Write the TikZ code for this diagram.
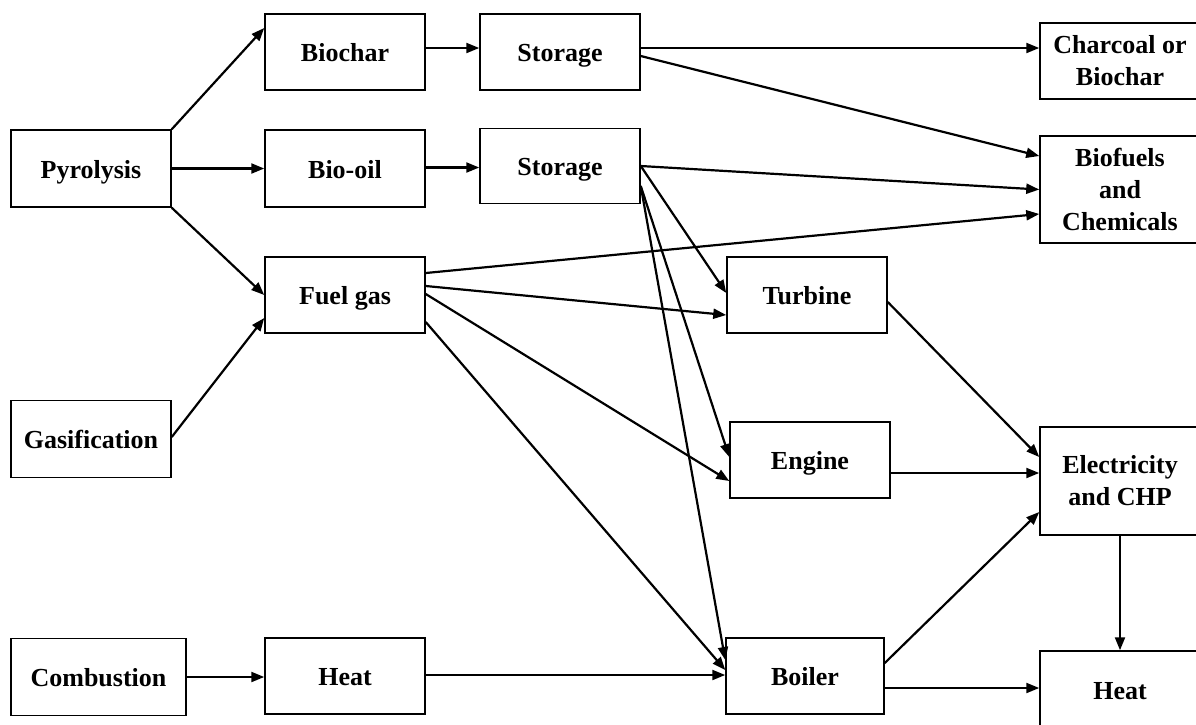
\documentclass[tikz,border=0pt]{standalone}
\usepackage{fontspec}
\setmainfont{Liberation Serif}
\usetikzlibrary{arrows.meta,calc}

\begin{document}
\begin{tikzpicture}[x=1pt,y=-1pt,>={Triangle[length=13pt,width=10pt]},
  box/.style={draw,line width=1.5pt,minimum width=160pt,minimum height=76pt,inner sep=2pt,align=center,
    font=\fontsize{26pt}{32pt}\selectfont\bfseries},
  one/.style={box,text height=20pt,text depth=1pt},
  flow/.style={->,line width=2.2pt}]
\useasboundingbox (0,0) rectangle (1196,724);
% sources
\node[one,minimum height=77pt] (pyro) at (91,168.5){Pyrolysis};
\node[one,minimum height=77pt] (gasif) at (91,439){Gasification};
\node[one,minimum width=175pt,minimum height=77pt] (comb) at (98.5,677){Combustion};
% intermediates
\node[one] (biochar) at (345,52){Biochar};\node[one] (store1) at (560,52){Storage};
\node[one,minimum height=77pt] (biooil) at (345,168.5){Bio-oil};\node[one,minimum height=75pt] (store2) at (560,166){Storage};
\node[one] (fuel) at (345,295){Fuel gas};\node[one] (heat1) at (345,676){Heat};
% conversion
\node[one] (turb) at (807,295){Turbine};\node[one] (eng) at (810,460){Engine};
\node[one,minimum width=158pt] (boil) at (805,676){Boiler};
% products
\node[box] (charc) at (1120,61){Charcoal or\\Biochar};
\node[box,minimum height=107pt] (biof) at (1120,189.5){Biofuels\\and\\Chemicals};
\node[box,minimum height=108pt] (elec) at (1120,481){Electricity\\and CHP};
\node[one,minimum height=78pt] (heat2) at (1120,690){Heat};
% left part
\draw[flow] (pyro.north east)--([yshift=24pt]biochar.west);
\draw[flow] (pyro.east)--(pyro.east -| biooil.west);
\draw[flow] (pyro.south east)--(fuel.west);
\draw[flow] ([yshift=2pt]gasif.east)--([yshift=-23pt]fuel.west);
\draw[flow] (comb.east)--(comb.east -| heat1.west);
\foreach \a/\b/\s in {biochar/store1/4pt,store1/charc/4pt,biooil/store2/1pt,heat1/boil/1pt,eng/elec/-13pt,boil/heat2/-12pt}{
\draw[flow] ([yshift=\s]\a.east)--([yshift=\s]\a.east -| \b.west);}
% to biofuels
\draw[flow] ([yshift=-4pt]store1.east)--([yshift=33.5pt]biof.west);
\draw[flow] (store2.east)--(biof.west);
\draw[flow] ([yshift=22pt]fuel.east)--([yshift=-24.5pt]biof.west);
% to turbine, engine, boiler
\draw[flow] (store2.east)--([yshift=2pt]turb.west);
\draw[flow] ([yshift=9pt]fuel.east)--([yshift=-20pt]turb.west);
\draw[flow] ([yshift=-20pt]store2.east)--([yshift=3pt]eng.west);
\draw[flow] ([yshift=1pt]fuel.east)--([yshift=-21pt]eng.west);
\draw[flow] ([yshift=-20pt]store2.east)--([yshift=16pt]boil.west);
\draw[flow] ([yshift=-27pt]fuel.east)--([yshift=6pt]boil.west);
% to electricity and heat
\draw[flow] ([yshift=-7pt]turb.east)--([yshift=24pt]elec.west);
\draw[flow] ([yshift=13pt]boil.east)--([yshift=-31pt]elec.west);
\draw[flow] (elec.south)--(heat2.north);
\end{tikzpicture}
\end{document}
